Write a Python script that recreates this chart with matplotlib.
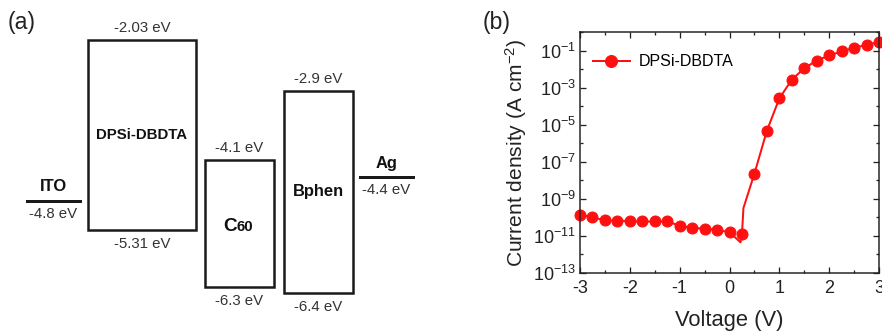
import math
import matplotlib.pyplot as plt
from matplotlib.patches import Rectangle
from matplotlib.lines import Line2D
import matplotlib.ticker as mticker

# (a) energy levels (eV)
layers = ['DPSi-DBDTA', 'C60', 'Bphen']
lumo = [-2.03, -4.1, -2.9]
homo = [-5.31, -6.3, -6.4]
electrodes = ['ITO', 'Ag']
work_fn = [-4.8, -4.4]

# (b) J-V curve, measured points (markers)
voltage = [-3.0, -2.75, -2.5, -2.25, -2.0, -1.75, -1.5, -1.25, -1.0, -0.75, -0.5, -0.25,
           0.0, 0.25, 0.5, 0.75, 1.0, 1.25, 1.5, 1.75, 2.0, 2.25, 2.5, 2.75, 3.0]
current = [1.4e-10, 1.0e-10, 7e-11, 6.5e-11, 6.5e-11, 6e-11, 6e-11, 6e-11, 3.6e-11, 2.7e-11,
           2.5e-11, 2.1e-11, 1.6e-11, 1.3e-11, 2.3e-8, 4.7e-6, 2.6e-4, 2.7e-3, 1.1e-2,
           2.9e-2, 5.4e-2, 9e-2, 0.14, 0.2, 0.29]
# the connecting line has a dip / jump near 0.25 V
line_v = voltage[:13] + [0.22, 0.25, 0.28] + voltage[14:]
line_j = current[:13] + [4.5e-12, 1.3e-11, 3.2e-10] + current[14:]

plt.rcParams['font.family'] = 'Liberation Sans'
plt.rcParams['axes.unicode_minus'] = False
plt.rcParams['mathtext.fontset'] = 'custom'
plt.rcParams['mathtext.rm'] = 'Liberation Sans'
plt.rcParams['mathtext.it'] = 'Liberation Sans:italic'
plt.rcParams['mathtext.bf'] = 'Liberation Sans:bold'

fig = plt.figure(figsize=(882 / 72, 333 / 72), dpi=72)

# ---- panel (a): energy diagram, x in pixels, y in eV
ax1 = fig.add_axes([0, 0, 441 / 882, 1])
ax1.set_xlim(0, 441)
ax1.set_ylim(-7.092, -1.331)
ax1.axis('off')

box_x = [(88, 196), (205, 274), (284, 353)]
elec_x = [(27, 80), (360, 413)]
edge = '#1a1a1a'
lab = '#333333'

for name, lo, hi, (x0, x1) in zip(layers, homo, lumo, box_x):
    ax1.add_patch(Rectangle((x0, lo), x1 - x0, hi - lo, fill=False, lw=2.5, ec=edge))
    cx = (x0 + x1) / 2
    ax1.annotate(f'{hi} eV', (cx, hi), xytext=(0, 12), textcoords='offset points',
                 ha='center', va='center', fontsize=15, color=lab)
    ax1.annotate(f'{lo} eV', (cx, lo), xytext=(0, -14), textcoords='offset points',
                 ha='center', va='center', fontsize=15, color=lab)
    mid = (hi + lo) / 2
    if name == 'C60':
        ax1.annotate('C', (cx, mid), xytext=(-3, -7), textcoords='offset points',
                     ha='right', va='baseline', fontsize=19, fontweight='bold', color='#111')
        ax1.annotate('60', (cx, mid), xytext=(-3, -7), textcoords='offset points',
                     ha='left', va='baseline', fontsize=15, fontweight='bold', color='#111')
    else:
        fs = 15 if name == 'DPSi-DBDTA' else 16.5
        ax1.text(cx, mid, name, ha='center', va='center', fontsize=fs,
                 fontweight='bold', color='#111')

for name, wf, (x0, x1) in zip(electrodes, work_fn, elec_x):
    ax1.plot([x0, x1], [wf, wf], color=edge, lw=3)
    cx = (x0 + x1) / 2
    ax1.annotate(name, (cx, wf), xytext=(0, 14), textcoords='offset points',
                 ha='center', va='center', fontsize=16.5, fontweight='bold', color='#111')
    ax1.annotate(f'{wf} eV', (cx, wf), xytext=(0, -13), textcoords='offset points',
                 ha='center', va='center', fontsize=15, color=lab)

fig.text(8 / 882, 1 - 23 / 333, '(a)', fontsize=23, va='center', ha='left', color='#222')

# ---- panel (b): J-V
ax2 = fig.add_axes([580 / 882, 60 / 333, 299 / 882, 241 / 333])
red = '#ff1010'
ax2.plot(line_v, line_j, color=red, lw=2)
ax2.plot(voltage, current, 'o', color=red, ms=11, clip_on=False)
ax2.set_yscale('log')
ax2.set_xlim(-3, 3)
ax2.set_ylim(1e-13, 1)

ax2.xaxis.set_major_locator(mticker.MultipleLocator(1))
ax2.xaxis.set_minor_locator(mticker.MultipleLocator(0.5))
ax2.yaxis.set_major_locator(mticker.FixedLocator([10.0 ** k for k in range(-13, 0, 2)]))
ax2.yaxis.set_minor_locator(mticker.FixedLocator([10.0 ** k for k in range(-12, 1, 2)]))
ax2.yaxis.set_major_formatter(mticker.FuncFormatter(
    lambda v, p: r'$10^{%d}$' % round(math.log10(v))))
ax2.yaxis.set_minor_formatter(mticker.NullFormatter())

ax2.tick_params(which='both', direction='in', top=True, right=True, width=1.3,
                labelsize=18, colors='#222')
ax2.tick_params(which='major', length=6, pad=4)
ax2.tick_params(which='minor', length=3)
ax2.tick_params(axis='x', which='major', pad=7)
for s in ax2.spines.values():
    s.set_linewidth(1.5)
    s.set_color('#222')

ax2.set_xlabel('Voltage (V)', fontsize=22, labelpad=13, color='#222')
ax2.set_ylabel(r'Current density (A cm$^{-2}$)', fontsize=21, labelpad=4, color='#222')

h = Line2D([], [], color=red, lw=2, marker='o', ms=12)
ax2.legend([h], ['DPSi-DBDTA'], loc='upper left', frameon=False, fontsize=16,
           handlelength=2.3, handletextpad=0.6, borderaxespad=0.4,
           bbox_to_anchor=(0.0, 0.96))

fig.text(483 / 882, 1 - 22 / 333, '(b)', fontsize=23, va='center', ha='left', color='#222')

fig.savefig('out.png', dpi=72)
